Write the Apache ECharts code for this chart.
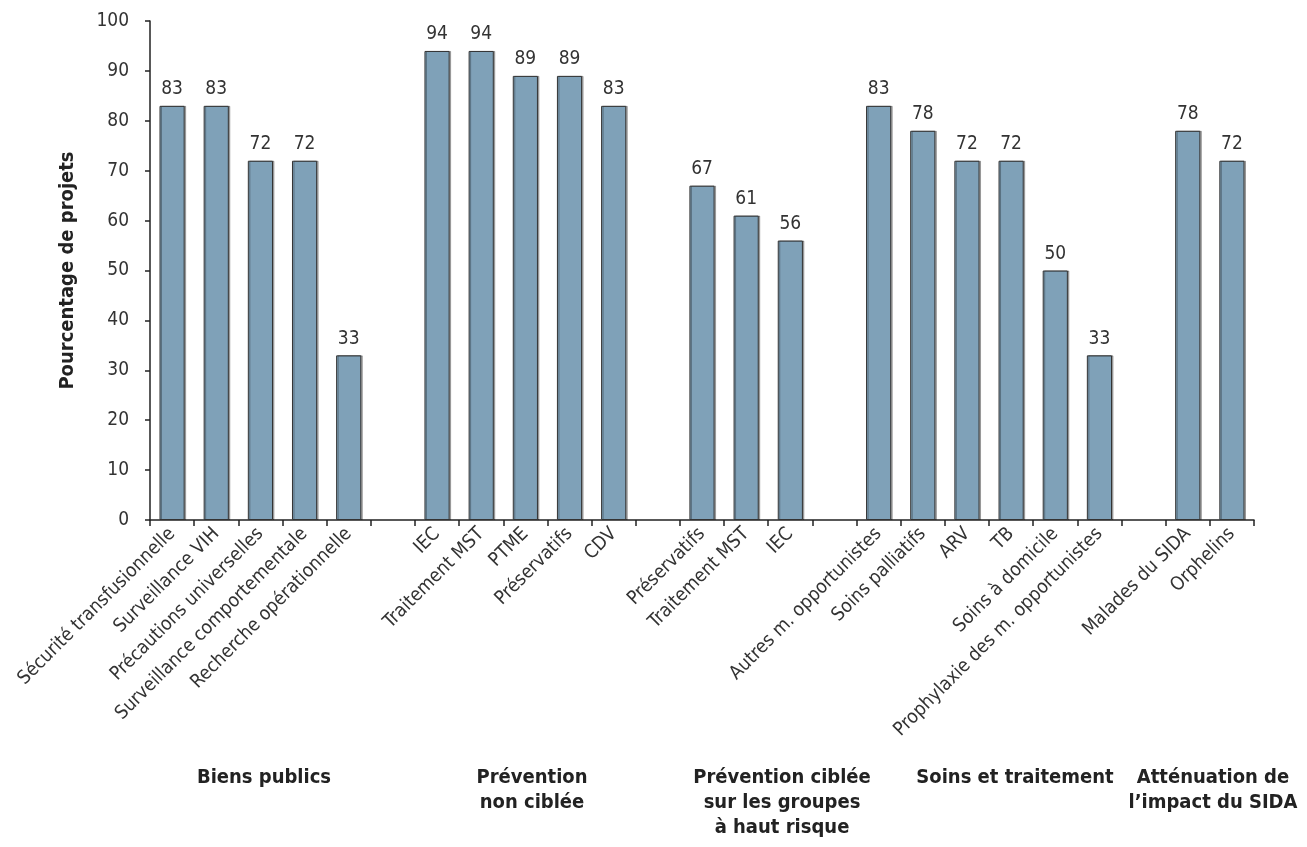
<!DOCTYPE html>
<html><head><meta charset="utf-8">
<script src="https://cdn.jsdelivr.net/npm/echarts@6/dist/echarts.min.js"></script>
<style>html,body{margin:0;padding:0;background:#fff}#c{width:1307px;height:847px}</style>
</head><body><div id="c"></div>
<script>
const categories = [
  'Sécurité transfusionnelle','Surveillance VIH','Précautions universelles','Surveillance comportementale','Recherche opérationnelle','',
  'IEC','Traitement MST','PTME','Préservatifs','CDV','',
  'Préservatifs','Traitement MST','IEC','',
  'Autres m. opportunistes','Soins palliatifs','ARV','TB','Soins à domicile','Prophylaxie des m. opportunistes','',
  'Malades du SIDA','Orphelins'
];
const values = [83,83,72,72,33,'-',94,94,89,89,83,'-',67,61,56,'-',83,78,72,72,50,33,'-',78,72];
const groupLabels = ['Biens publics','Prévention\nnon ciblée','Prévention ciblée\nsur les groupes\nà haut risque','Soins et traitement','Atténuation de\nl’impact du SIDA'];
const groupX = [264,532,782,1015,1213];

const FONT = '"Liberation Sans Narrow","DejaVu Sans Condensed","Roboto",sans-serif';
const chart = echarts.init(document.getElementById('c'));
chart.setOption({
  animation:false,
  grid:{left:150,right:53,top:21,bottom:327,containLabel:false},
  xAxis:{type:'category',data:categories,boundaryGap:true,
    axisLine:{lineStyle:{color:'#222',width:1.5}},
    axisTick:{show:true,alignWithLabel:false,length:6,lineStyle:{color:'#222',width:1.5}},
    axisLabel:{rotate:45,interval:0,fontFamily:FONT,fontSize:19,color:'#333',margin:11}
  },
  yAxis:{type:'value',min:0,max:100,interval:10,
    name:'Pourcentage de projets',nameLocation:'middle',nameGap:72,nameRotate:90,
    nameTextStyle:{fontFamily:FONT,fontSize:20,fontWeight:'bold',color:'#222'},
    axisLine:{show:true,lineStyle:{color:'#222',width:1.5}},
    axisTick:{show:true,length:5,lineStyle:{color:'#222',width:1.5}},
    splitLine:{show:false},
    axisLabel:{fontFamily:FONT,fontSize:19,color:'#333',margin:21}
  },
  series:[{type:'bar',data:values,barWidth:'57%',
    itemStyle:{color:'#7fa1b8',borderColor:'#333',borderWidth:1,
      shadowColor:'rgba(0,0,0,0.3)',shadowOffsetX:1.5,shadowOffsetY:0,shadowBlur:0},
    label:{show:true,position:'top',distance:7,fontFamily:FONT,fontSize:19,color:'#333'}
  }],
  graphic:groupLabels.map((t,i)=>({type:'text',x:groupX[i],y:765,
    style:{text:t,textAlign:'center',fontFamily:FONT,fontSize:20,fontWeight:'bold',fill:'#222',lineHeight:25}}))
});
</script></body></html>
